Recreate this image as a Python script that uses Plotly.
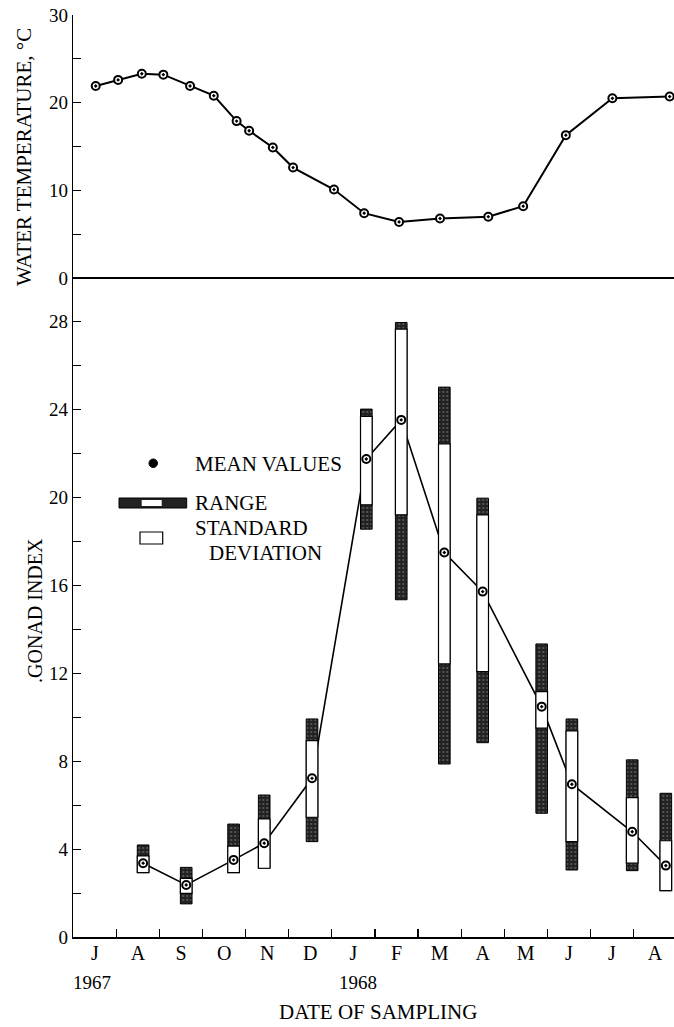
import plotly.graph_objects as go

# ---------------- data ----------------
# x positions in months since 1 July 1967 (0 = start of July 1967)
month_labels = ["J", "A", "S", "O", "N", "D", "J", "F", "M", "A", "M", "J", "J", "A"]
year_labels = ["1967", "1968"]

temp_month = [0.52, 1.04, 1.59, 2.09, 2.71, 3.26, 3.79, 4.08, 4.63, 5.10,
              6.05, 6.75, 7.56, 8.51, 9.63, 10.44, 11.43, 12.51, 13.84]
temp_c = [21.9, 22.6, 23.3, 23.2, 21.9, 20.8, 17.9, 16.8, 14.9, 12.6,
          10.1, 7.4, 6.4, 6.8, 7.0, 8.2, 16.3, 20.5, 20.7]

gi_month = [1.62, 2.62, 3.72, 4.43, 5.54, 6.80, 7.61, 8.61, 9.50, 10.87, 11.57, 12.97, 13.75]
gi_mean = [3.37, 2.38, 3.52, 4.28, 7.23, 21.75, 23.53, 17.50, 15.72, 10.49, 6.96, 4.80, 3.26]
gi_min = [2.94, 1.52, 2.94, 3.14, 4.35, 18.56, 15.35, 7.88, 8.85, 5.64, 3.06, 3.03, 2.12]
gi_max = [4.20, 3.18, 5.15, 6.47, 9.93, 24.02, 27.96, 25.02, 19.97, 13.34, 9.93, 8.07, 6.55]
gi_sd_lo = [2.94, 2.00, 2.94, 3.14, 5.46, 19.67, 19.21, 12.43, 12.08, 9.51, 4.35, 3.37, 2.12]
gi_sd_hi = [3.70, 2.68, 4.15, 5.38, 8.94, 23.69, 27.66, 22.44, 19.21, 11.17, 9.39, 6.35, 4.39]

# ---------------- layout helpers ----------------
W, H = 674, 1027
def px(x):
    return x / W
def py(y):
    return 1 - y / H

FONT = "Liberation Serif"
XR = [0, 13.94]
XDOM = [px(73.3), 1.0]

fig = go.Figure()

# top panel: water temperature
fig.add_trace(go.Scatter(
    x=temp_month, y=temp_c, mode="lines+markers", xaxis="x", yaxis="y",
    line=dict(color="black", width=2),
    marker=dict(symbol="circle-dot", size=8, color="white",
                line=dict(color="black", width=2)),
    showlegend=False, hoverinfo="skip"))

# bottom panel: line connecting means (drawn beneath bars)
fig.add_trace(go.Scatter(
    x=gi_month, y=gi_mean, mode="lines", xaxis="x2", yaxis="y2",
    line=dict(color="black", width=1.6), showlegend=False, hoverinfo="skip"))

# range bars (stippled dark)
fig.add_trace(go.Bar(
    x=gi_month, y=[h - l for h, l in zip(gi_max, gi_min)], base=gi_min,
    width=0.27, xaxis="x3", yaxis="y3",
    marker=dict(color="#222222", line=dict(color="black", width=1),
                pattern=dict(shape=".", fgcolor="#aaaaaa", bgcolor="#222222",
                             size=4, solidity=0.18)),
    showlegend=False, hoverinfo="skip"))

# standard deviation boxes (white)
fig.add_trace(go.Bar(
    x=gi_month, y=[h - l for h, l in zip(gi_sd_hi, gi_sd_lo)], base=gi_sd_lo,
    width=0.27, xaxis="x3", yaxis="y3",
    marker=dict(color="white", line=dict(color="black", width=1.2)),
    showlegend=False, hoverinfo="skip"))

# mean markers
fig.add_trace(go.Scatter(
    x=gi_month, y=gi_mean, mode="markers", xaxis="x3", yaxis="y3",
    marker=dict(symbol="circle-dot", size=8, color="white",
                line=dict(color="black", width=2)),
    showlegend=False, hoverinfo="skip"))

tickfont = dict(family=FONT, size=19, color="black")
monthfont = dict(family=FONT, size=20, color="black")

fig.update_layout(
    width=W, height=H, margin=dict(l=0, r=0, t=0, b=0),
    paper_bgcolor="white", plot_bgcolor="white",
    barmode="overlay", showlegend=False,
    xaxis=dict(domain=XDOM, range=XR, anchor="y", visible=False, fixedrange=True),
    yaxis=dict(domain=[py(300), py(15)], range=[-2.5, 30], anchor="x",
               showline=True, linecolor="black", linewidth=1.5,
               ticks="inside", ticklen=8, tickwidth=1.2, tickcolor="black",
               tickvals=[0, 10, 20, 30], tickfont=tickfont,
               minor=dict(tickmode="array", tickvals=[5, 15, 25], ticks="inside",
                          ticklen=8, tickwidth=1, tickcolor="black", showgrid=False),
               showgrid=False, zeroline=True, zerolinecolor="black", zerolinewidth=1.8,
               automargin=False),
    xaxis2=dict(domain=XDOM, range=XR, anchor="y2",
                showline=True, linecolor="black", linewidth=1.6,
                tickmode="array", tickvals=[i + 0.5 for i in range(14)],
                ticktext=month_labels, ticks="", tickfont=monthfont,
                ticklabelstandoff=-3,
                minor=dict(tickmode="array", tickvals=list(range(1, 14)), ticks="inside",
                           ticklen=8, tickwidth=1.2, tickcolor="black", showgrid=False),
                showgrid=False, zeroline=False, automargin=False),
    yaxis2=dict(domain=[py(937.3), py(282)], range=[0, 29.8], anchor="x2",
                showline=True, linecolor="black", linewidth=1.6,
                ticks="inside", ticklen=8, tickwidth=1.2, tickcolor="black",
                tickvals=list(range(0, 29, 4)), tickfont=tickfont,
                minor=dict(tickmode="array", tickvals=list(range(2, 28, 4)), ticks="inside",
                           ticklen=8, tickwidth=1, tickcolor="black", showgrid=False),
                showgrid=False, zeroline=False, automargin=False),
    xaxis3=dict(overlaying="x2", range=XR, anchor="y3", visible=False),
    yaxis3=dict(overlaying="y2", range=[0, 29.8], anchor="x3", visible=False),
)

def f(size):
    return dict(family=FONT, size=size, color="black")

annotations = [
    dict(text="WATER TEMPERATURE, °C", x=px(24), y=py(157), textangle=-90, font=f(21)),
    dict(text=".GONAD INDEX", x=px(35), y=py(611), textangle=-90, font=f(20)),
    dict(text="DATE OF SAMPLING", x=px(378), y=py(1012), font=f(21)),
    dict(text=year_labels[0], x=px(92), y=py(982), font=f(19)),
    dict(text=year_labels[1], x=px(358), y=py(982), font=f(19)),
    dict(text="MEAN VALUES", x=px(193), y=py(464), xanchor="left", font=f(21)),
    dict(text="RANGE", x=px(193), y=py(503), xanchor="left", font=f(21)),
    dict(text="STANDARD", x=px(193), y=py(528), xanchor="left", font=f(21)),
    dict(text="DEVIATION", x=px(207), y=py(553), xanchor="left", font=f(21)),
]
for a in annotations:
    a.update(xref="paper", yref="paper", showarrow=False)
    a.setdefault("xanchor", "center")
    a.setdefault("yanchor", "middle")
fig.update_layout(annotations=annotations)

# legend keys (decoration)
shapes = [
    dict(type="circle", x0=px(149), x1=px(157.5), y0=py(467.5), y1=py(459),
         fillcolor="black", line=dict(color="black", width=1)),
    dict(type="rect", x0=px(119), x1=px(186.7), y0=py(508), y1=py(498),
         fillcolor="#222222", line=dict(color="black", width=1)),
    dict(type="rect", x0=px(141.7), x1=px(161.7), y0=py(506), y1=py(500),
         fillcolor="white", line=dict(color="white", width=0)),
    dict(type="rect", x0=px(140), x1=px(162.7), y0=py(544), y1=py(532),
         fillcolor="white", line=dict(color="black", width=1.2)),
]
for s in shapes:
    s.update(xref="paper", yref="paper")
fig.update_layout(shapes=shapes)

fig.write_html(
    "out.html",
    config={"displayModeBar": False, "staticPlot": True},
    post_script="document.body.style.margin='0';document.body.style.overflow='hidden';",
)
